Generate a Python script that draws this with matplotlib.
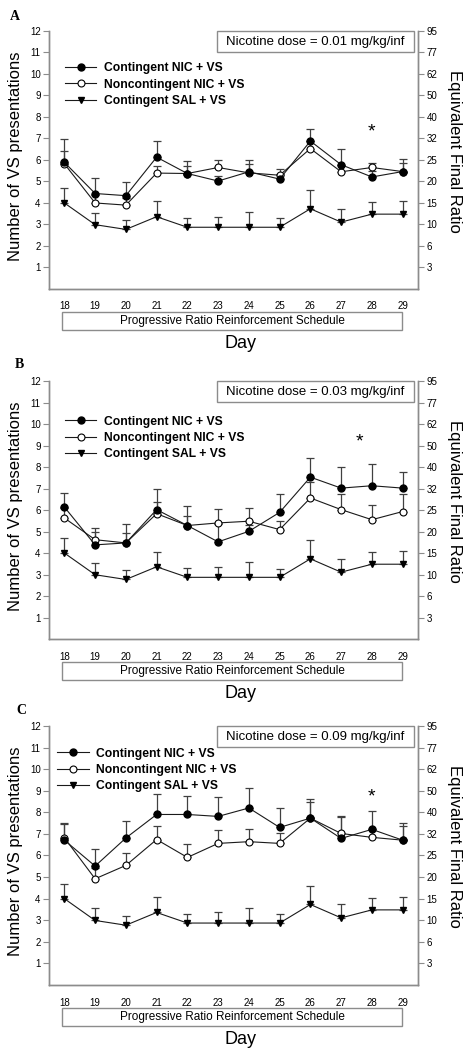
import matplotlib
matplotlib.use('Agg')
import matplotlib.pyplot as plt
import matplotlib.transforms as mtransforms
from matplotlib.patches import Rectangle

plt.rcParams['font.family'] = ['Liberation Sans', 'DejaVu Sans']

days = list(range(18, 30))

# saline group, same in every panel
sal = [4.00, 2.99, 2.77, 3.36, 2.87, 2.87, 2.87, 2.87, 3.73, 3.11, 3.48, 3.48]
sal_sem = [0.70, 0.56, 0.43, 0.71, 0.44, 0.49, 0.71, 0.41, 0.87, 0.62, 0.57, 0.62]

# panel A, 0.01 mg/kg/inf
a_nic = [5.89, 4.44, 4.34, 6.13, 5.37, 5.02, 5.45, 5.11, 6.88, 5.78, 5.21, 5.46]
a_nic_sem = [1.08, 0.72, 0.63, 0.77, 0.35, 0.25, 0.54, 0.25, 0.56, 0.71, 0.30, 0.40]
a_non = [5.82, 4.00, 3.90, 5.39, 5.37, 5.65, 5.40, 5.29, 6.53, 5.45, 5.65, 5.46]
a_non_sem = [0.58, 0.35, 0.35, 0.35, 0.58, 0.37, 0.39, 0.31, 0.35, 0.30, 0.21, 0.60]

# panel B, 0.03 mg/kg/inf
b_nic = [6.14, 4.38, 4.47, 6.02, 5.28, 4.52, 5.01, 5.89, 7.53, 7.02, 7.13, 7.02]
b_nic_sem = [0.65, 0.79, 0.88, 0.98, 0.89, 0.85, 0.30, 0.84, 0.88, 0.96, 1.01, 0.75]
b_non = [5.63, 4.62, 4.47, 5.83, 5.28, 5.40, 5.48, 5.09, 6.56, 6.02, 5.55, 5.93]
b_non_sem = [0.45, 0.35, 0.47, 0.53, 0.43, 0.65, 0.63, 0.40, 0.73, 0.74, 0.68, 0.83]

# panel C, 0.09 mg/kg/inf
c_nic = [6.71, 5.51, 6.81, 7.90, 7.90, 7.81, 8.20, 7.30, 7.73, 6.79, 7.21, 6.71]
c_nic_sem = [0.79, 0.80, 0.80, 0.96, 0.85, 0.90, 0.91, 0.91, 0.90, 1.02, 0.86, 0.81]
c_non = [6.82, 4.92, 5.54, 6.74, 5.91, 6.56, 6.64, 6.56, 7.73, 7.02, 6.84, 6.71]
c_non_sem = [0.65, 0.50, 0.56, 0.61, 0.60, 0.63, 0.60, 0.50, 0.75, 0.76, 0.40, 0.65]

doses = ['0.01', '0.03', '0.09']
letters = ['A', 'B', 'C']
star_x = [28, 27.6, 28]
star_y = [7.6, 9.47, 9.03]

left_ticks = list(range(1, 13))
right_labels = ['3', '6', '10', '15', '20', '25', '32', '40', '50', '62', '77', '95']

labels = ['Contingent NIC + VS', 'Noncontingent NIC + VS', 'Contingent SAL + VS']

panels = [(a_nic, a_nic_sem, a_non, a_non_sem),
          (b_nic, b_nic_sem, b_non, b_non_sem),
          (c_nic, c_nic_sem, c_non, c_non_sem)]

bottoms = [0.7248, 0.3914, 0.0619]
heights = [0.2457, 0.2457, 0.2467]
leg_pos = [(0.043, 0.878), (0.043, 0.866), (0.022, 0.916)]
letter_pos = [(15, 16), (19, 365), (21, 711)]

line_c = '#1a1a1a'
err_c = '#404040'
spine_c = '#8c8c8c'

fig = plt.figure(figsize=(4.72, 10.5), dpi=100)

for i in range(3):
    nic, nic_sem, non, non_sem = panels[i]
    ax = fig.add_axes([0.1038, bottoms[i], 0.7818, heights[i]])

    # upper error bars only
    zeros = [0] * len(days)
    for y, e in [(sal, sal_sem), (non, non_sem), (nic, nic_sem)]:
        ax.errorbar(days, y, yerr=[zeros, e], fmt='none', ecolor=err_c,
                    elinewidth=0.9, capsize=3, capthick=0.9, zorder=1)

    l3, = ax.plot(days, sal, '-v', color=line_c, lw=0.8, ms=5,
                  mfc='black', mec='black', zorder=3)
    l2, = ax.plot(days, non, '-o', color=line_c, lw=0.8, ms=5,
                  mfc='white', mec='black', mew=0.8, zorder=4)
    l1, = ax.plot(days, nic, '-o', color=line_c, lw=0.8, ms=5,
                  mfc='black', mec='black', zorder=5)

    ax.set_xlim(17.5, 29.5)
    ax.set_ylim(0, 12)
    ax.set_xticks(days)
    ax.set_yticks(left_ticks)
    ax.tick_params(axis='x', length=0, pad=9, labelsize=7)
    ax.tick_params(axis='y', length=4, width=0.8, color=spine_c, pad=2, labelsize=7)
    ax.spines['top'].set_visible(False)
    for s in ['left', 'right', 'bottom']:
        ax.spines[s].set_color(spine_c)
        ax.spines[s].set_linewidth(1.0)

    ax2 = ax.twinx()
    ax2.set_ylim(0, 12)
    ax2.set_yticks(left_ticks)
    ax2.set_yticklabels(right_labels)
    ax2.tick_params(axis='y', length=4, width=0.8, color=spine_c, pad=2, labelsize=7)
    ax2.spines['top'].set_visible(False)
    for s in ['left', 'right', 'bottom']:
        ax2.spines[s].set_color(spine_c)
        ax2.spines[s].set_linewidth(1.0)

    ax.legend([l1, l2, l3], labels, loc='upper left', bbox_to_anchor=leg_pos[i],
              bbox_transform=ax.transAxes, frameon=False, borderpad=0,
              borderaxespad=0, handlelength=2.6, handletextpad=0.6,
              labelspacing=0.35, prop={'weight': 'bold', 'size': 8.7})

    # dose box
    ax.add_patch(Rectangle((22.95, 11.02), 6.41, 0.98, fill=False,
                           ec=spine_c, lw=1.0, zorder=6, clip_on=False))
    ax.text(26.15, 11.5, 'Nicotine dose = ' + doses[i] + ' mg/kg/inf',
            ha='center', va='center', fontsize=9.5, zorder=7)

    # schedule box under the axis
    trans = mtransforms.blended_transform_factory(ax.transData, ax.transAxes)
    ax.add_patch(Rectangle((17.93, -0.159), 11.05, 0.070, fill=False,
                           ec=spine_c, lw=1.0, transform=trans, clip_on=False))
    ax.text(23.45, -0.124, 'Progressive Ratio Reinforcement Schedule',
            transform=trans, ha='center', va='center', fontsize=8.5)

    ax.text(0.518, -0.21, 'Day', transform=ax.transAxes, ha='center',
            va='center', fontsize=13)
    ax.text(-0.092, 0.515, 'Number of VS presentations', transform=ax.transAxes,
            rotation=90, ha='center', va='center', fontsize=12)
    ax.text(1.10, 0.535, 'Equivalent Final Ratio', transform=ax.transAxes,
            rotation=270, ha='center', va='center', fontsize=12)

    ax.text(star_x[i], star_y[i] - 0.3, '*', ha='center', va='center',
            fontsize=14)

    fig.text(letter_pos[i][0] / 472, 1 - letter_pos[i][1] / 1050, letters[i],
             family='Liberation Serif', weight='bold', fontsize=10,
             ha='center', va='center')

fig.savefig('out.png', dpi=100)
